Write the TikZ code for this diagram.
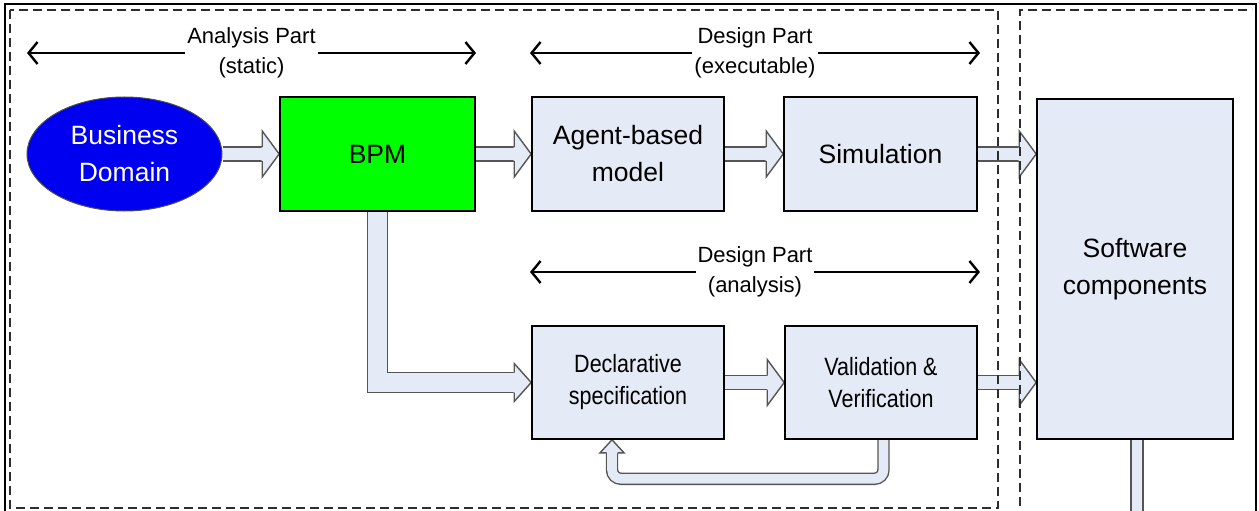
\documentclass[tikz,border=0pt]{standalone}
\usepackage{fontspec}
\setmainfont{Liberation Sans}
\newfontfamily\narrowfont[FakeStretch=0.86]{Liberation Sans}
\usetikzlibrary{arrows.meta,calc,shapes.geometric,backgrounds}
\definecolor{boxfill}{RGB}{228,234,246}
\definecolor{bdblue}{RGB}{0,0,240}
\definecolor{bpmgreen}{RGB}{0,255,0}
\definecolor{arrowline}{RGB}{85,85,85}
\definecolor{dashcol}{RGB}{45,45,45}
\tikzset{
  box/.style={draw=black, line width=1.6pt, fill=boxfill, minimum width=193pt,
    minimum height=113pt, inner sep=0pt, align=center,
    font=\fontsize{26.5}{37}\selectfont},
  lowbox/.style={box, font=\narrowfont\fontsize{25}{32}\selectfont},
  shaft/.style={draw=arrowline, line width=1.4pt, double=boxfill, double distance=12.6pt},
  span/.style={line width=2.4pt, {Straight Barb[length=9pt,width=22pt]}-{Straight Barb[length=9pt,width=22pt]}},
  spanlabel/.style={fill=white, inner sep=2pt, align=center, font=\fontsize{22}{30}\selectfont},
  region/.style={draw=dashcol, line width=1.5pt, dash pattern=on 9pt off 5pt},
}
% block arrow head: #1 tip, #2 angle, #3 length, #4 half width, #5 shaft half width
\newcommand\blockhead[5]{%
  \begin{scope}[shift={(#1)}, rotate=#2]
    \fill[boxfill] (-#3pt-0.6pt,#5pt) -- (-#3pt,#5pt) -- (-#3pt,#4pt) -- (0,0) -- (-#3pt,-#4pt) -- (-#3pt,-#5pt) -- (-#3pt-0.6pt,-#5pt) -- cycle;
    \draw[arrowline, line width=1.4pt, line join=miter] (-#3pt,#5pt) -- (-#3pt,#4pt) -- (0,0) -- (-#3pt,-#4pt) -- (-#3pt,-#5pt);
  \end{scope}}
\begin{document}
\begin{tikzpicture}[x=1pt,y=-1pt]
\useasboundingbox (0,0) rectangle (1259,511);

% nodes
\node[ellipse, draw=black!70, line width=1pt, fill=bdblue, text=white, minimum width=195pt,
  minimum height=114pt, inner sep=0pt, align=center, font=\fontsize{26.5}{37}\selectfont]
  (bd) at (124.5,154) {Business\\Domain};
\node[box, fill=bpmgreen, minimum width=195pt, minimum height=114pt] (bpm) at (377.5,154) {BPM};
\node[box, minimum width=192pt, minimum height=114pt] (abm) at (628,154) {Agent-based\\model};
\node[box, minimum width=193pt, minimum height=114pt] (sim) at (880.5,154) {Simulation};
\node[lowbox, minimum width=192pt] (decl) at (628,382.5) {Declarative\\specification};
\node[lowbox, minimum width=192pt] (vv) at (881,382.5) {Validation \&\\Verification};
\node[box, minimum width=196pt, minimum height=340pt] (sw) at (1135,269) {Software\\components};

% block arrows
\begin{scope}[on background layer]
  \draw[shaft] (bd.east) -- ([xshift=-17pt]bpm.west);
  \blockhead{bpm.west}{0}{17}{23}{7}
  \draw[shaft] (bpm.east) -- ([xshift=-17pt]abm.west);
  \blockhead{abm.west}{0}{17}{23}{7}
  \draw[shaft] (abm.east) -- ([xshift=-17pt]sim.west);
  \blockhead{sim.west}{0}{17}{23}{7}
  \draw[shaft] (sim.east) -- ([xshift=-17pt]sim.east -| sw.west);
  \blockhead{sim.east -| sw.west}{0}{17}{23}{7}
  \draw[shaft] (decl.east) -- ([xshift=-17pt]vv.west);
  \blockhead{vv.west}{0}{17}{23}{7}
  \draw[shaft] (vv.east) -- ([xshift=-17pt]vv.east -| sw.west);
  \blockhead{vv.east -| sw.west}{0}{17}{23}{7}
  % BPM down to declarative specification
  \draw[shaft, double distance=18.6pt, line join=miter] (bpm.south) |- ([xshift=-17pt]decl.west);
  \blockhead{decl.west}{0}{17}{19}{10}
  % feedback loop
  \coordinate (fbstart) at ([xshift=2.5pt]vv.south);
  \coordinate (fbend) at ([xshift=-16pt,yshift=-13pt]decl.south);
  \draw[shaft, double distance=9.6pt, rounded corners=9pt] (fbstart) -- ++(0,39) -| (fbend);
  \blockhead{[xshift=-16pt]decl.south}{90}{13}{12}{5.5}
  % software components outgoing
  \coordinate (swout) at ([xshift=2pt,yshift=-90pt]sw.south);
  \draw[shaft, double distance=10.6pt] ([xshift=2pt]sw.south) -- (swout);
\end{scope}

% span arrows with labels
\coordinate (a1) at (27,53);  \coordinate (a2) at (476,53);
\coordinate (b1) at (530,53); \coordinate (b2) at (980,53);
\coordinate (c1) at (530,272); \coordinate (c2) at (980,272);
\draw[span] (a1) -- (a2);
\draw[span] (b1) -- (b2);
\draw[span] (c1) -- (c2);
\node[spanlabel] (la) at ($(a1)!0.5!(a2)$) {Analysis Part\\(static)};
\node[spanlabel] (lb) at ($(b1)!0.5!(b2)$) {Design Part\\(executable)};
\node[spanlabel] (lc) at ($(c1)!0.5!(c2)$) {Design Part\\(analysis)};

% regions
\draw[region] (10,10) rectangle (998,508);
\draw[region] (1020,520) -- (1020,10) -- (1252,10);
\draw[black, line width=2.2pt] (5,520) -- (5,4) -- (1256,4) -- (1256,520);
\end{tikzpicture}
\end{document}
